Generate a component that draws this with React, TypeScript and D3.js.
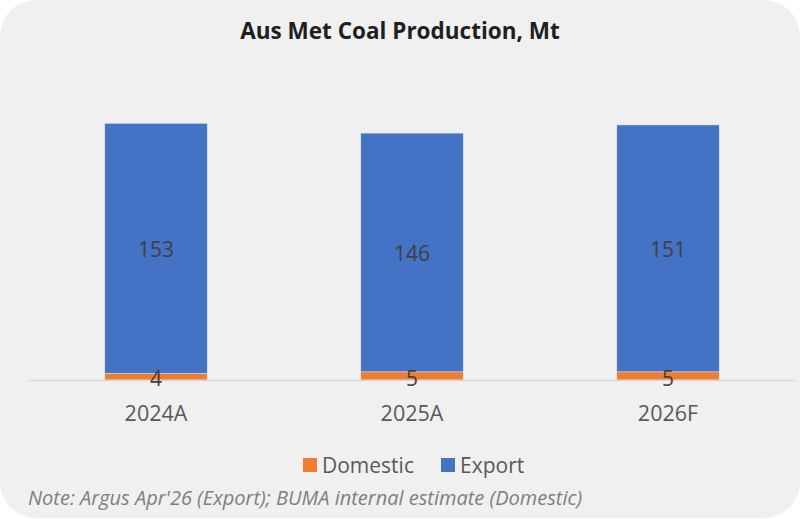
import * as d3 from 'd3';

const categories = ['2024A', '2025A', '2026F'];
const domestic = [4, 5, 5];
const exportVals = [153, 146, 151];
const seriesNames = ['Domestic', 'Export'];
const seriesColors = ['#ED7D31', '#4472C4'];
const title = 'Aus Met Coal Production, Mt';
const note = "Note: Argus Apr'26 (Export); BUMA internal estimate (Domestic)";

const W = 802;
const H = 519;
const font = "'Open Sans', sans-serif";

export default function App() {
  const rows = categories.map((c, i) => ({ cat: c, Domestic: domestic[i], Export: exportVals[i] }));
  const stacked = d3.stack<any>().keys(seriesNames)(rows);

  const x = d3.scaleBand().domain(categories).range([28, 796]).paddingInner(0.6).paddingOuter(0.3);
  const baseY = 380;
  const y = d3.scaleLinear().domain([0, 180]).range([baseY, baseY - 294.3]);

  return (
    <svg width={W} height={H} style={{ position: 'absolute', left: 0, top: 0 }}>
      <rect x={0} y={0} width={800} height={518} rx={36} ry={36} fill="#f0f0f0" />
      <text x={400} y={30} textAnchor="middle" dominantBaseline="central" fontFamily={font}
        fontWeight="bold" fontSize={22.5} fill="#1f1f1f">{title}</text>

      {stacked.map((layer, si) => (
        <g key={layer.key}>
          {layer.map((d, i) => (
            <rect key={i} x={x(categories[i])} y={y(d[1])} width={x.bandwidth()}
              height={y(d[0]) - y(d[1])} fill={seriesColors[si]} stroke="#e8e8e8" strokeWidth={0.5} />
          ))}
        </g>
      ))}

      <line x1={28} x2={796} y1={baseY + 0.5} y2={baseY + 0.5} stroke="#d9d9d9" strokeWidth={1.5} />

      {stacked.map((layer) => (
        <g key={layer.key + '-lbl'}>
          {layer.map((d, i) => (
            <text key={i} x={x(categories[i])! + x.bandwidth() / 2}
              y={layer.key === 'Domestic' ? y(d[0]) - 2 : (y(d[0]) + y(d[1])) / 2 + 1}
              textAnchor="middle" dominantBaseline="central" fontFamily={font}
              fontSize={21} fill="#404040">{d[1] - d[0]}</text>
          ))}
        </g>
      ))}

      {categories.map((c) => (
        <text key={c} x={x(c)! + x.bandwidth() / 2} y={412} textAnchor="middle"
          dominantBaseline="central" fontFamily={font} fontSize={21.5} fill="#595959">{c}</text>
      ))}

      <g>
        <rect x={303} y={458} width={14} height={14} fill={seriesColors[0]} />
        <text x={322} y={465} dominantBaseline="central" fontFamily={font} fontSize={21} fill="#595959">{seriesNames[0]}</text>
        <rect x={441} y={458} width={14} height={14} fill={seriesColors[1]} />
        <text x={460} y={465} dominantBaseline="central" fontFamily={font} fontSize={21} fill="#595959">{seriesNames[1]}</text>
      </g>

      <text x={28} y={497} dominantBaseline="central" fontFamily={font} fontStyle="italic"
        fontSize={20} fill="#7f7f7f">{note}</text>
    </svg>
  );
}
